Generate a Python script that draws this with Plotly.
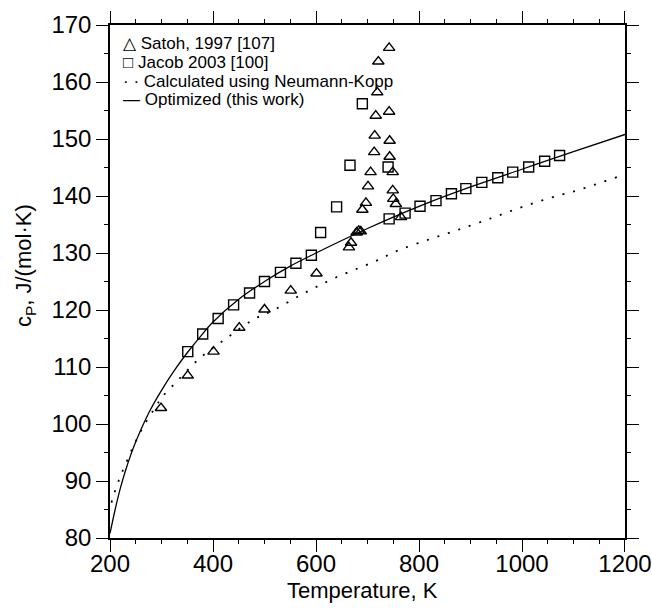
import plotly.graph_objects as go

# Satoh, 1997 [107] (triangles)
satoh_T = [299, 351, 401, 451, 500, 551, 601, 664, 668, 679, 683, 687, 690, 697, 701,
           706, 713, 714, 716, 719, 721, 742, 742, 743, 743, 749, 749, 750, 755, 765]
satoh_cp = [102.8, 108.5, 112.7, 116.9, 120.1, 123.4, 126.4, 131.0, 131.8, 133.6, 133.9,
            133.8, 137.6, 138.8, 141.7, 144.2, 147.7, 150.6, 154.1, 158.2, 163.6, 166.0,
            154.8, 149.7, 146.9, 144.2, 141.0, 139.5, 138.6, 136.3]

# Jacob 2003 [100] (squares)
jacob_T = [351, 380, 410, 440, 471, 500, 531, 561, 591, 609, 640, 666, 690, 740, 742,
           773, 802, 833, 863, 891, 922, 953, 982, 1013, 1044, 1073]
jacob_cp = [112.7, 115.8, 118.5, 120.9, 123.0, 125.0, 126.6, 128.2, 129.6, 133.6, 138.1,
            145.4, 156.2, 145.1, 136.0, 137.0, 138.2, 139.2, 140.4, 141.3, 142.4, 143.2,
            144.2, 145.1, 146.1, 147.1]

# Calculated using Neumann-Kopp (dotted)
nk_T = [203, 205, 212, 220, 230, 245, 265, 290, 300, 330, 375, 427, 480, 520, 578, 636,
        716, 758, 820, 880, 940, 982, 1024, 1067, 1108, 1148, 1190, 1200]
nk_cp = [86.2, 87.0, 88.8, 90.8, 92.9, 96.0, 99.6, 103.2, 104.6, 107.5, 111.6, 115.1,
         118.4, 120.1, 123.0, 125.6, 128.6, 130.4, 132.4, 134.2, 136.1, 137.5, 138.8,
         140.0, 141.0, 142.2, 143.5, 143.8]

# Optimized (this work) (solid)
opt_T = [200, 210, 220, 230, 240, 250, 275, 300, 325, 350, 375, 400, 450, 500, 550, 600,
         650, 700, 750, 800, 900, 1000, 1100, 1200]
opt_cp = [80.8, 85.0, 88.7, 91.8, 94.5, 96.9, 101.9, 105.9, 109.4, 112.5, 115.3, 117.9,
          121.9, 125.0, 127.7, 130.0, 132.2, 134.3, 136.3, 138.2, 141.6, 144.7, 147.8, 150.8]

legend_labels = ["\u25b3 Satoh, 1997 [107]", "\u25a1 Jacob 2003 [100]",
                 "\u00b7 \u00b7 Calculated using Neumann-Kopp", "\u2014 Optimized (this work)"]

x_ticks = [200, 400, 600, 800, 1000, 1200]
y_ticks = [80, 90, 100, 110, 120, 130, 140, 150, 160, 170]

x_title = "Temperature, K"
y_title = "c<sub>P</sub>, J/(mol\u00b7K)"

FONT = "Liberation Sans, Arial, sans-serif"
L, R, T, B = 110, 27, 25, 78
PW, PH = 652 - L - R, 616 - T - B

fig = go.Figure()
fig.add_trace(go.Scatter(x=opt_T, y=opt_cp, mode="lines", line=dict(color="black", width=1.3),
                         line_shape="spline", name="Optimized (this work)"))
fig.add_trace(go.Scatter(x=nk_T, y=nk_cp, mode="lines",
                         line=dict(color="black", width=1.8, dash="2px,9px"),
                         line_shape="spline", name="Calculated using Neumann-Kopp"))
fig.add_trace(go.Scatter(x=jacob_T, y=jacob_cp, mode="markers",
                         marker=dict(symbol="square-open", size=10, color="black",
                                     line=dict(width=1.4, color="black")),
                         name="Jacob 2003 [100]"))
fig.add_trace(go.Scatter(x=satoh_T, y=satoh_cp, mode="markers",
                         marker=dict(symbol="triangle-up-open", size=10, color="black",
                                     line=dict(width=1.4, color="black")),
                         name="Satoh, 1997 [107]"))

for i, lab in enumerate(legend_labels):
    fig.add_annotation(text=lab, xref="paper", yref="paper",
                       x=(121 - L) / PW, y=1 - (19 + 18.5 * i) / PH,
                       xanchor="left", yanchor="middle", showarrow=False,
                       font=dict(family=FONT, size=17, color="black"))

# axis titles
fig.add_annotation(text=x_title, xref="paper", yref="paper",
                   x=(362 - L) / PW, y=1 - (590 - T) / PH, xanchor="center", yanchor="middle",
                   showarrow=False, font=dict(family=FONT, size=22, color="black"))
fig.add_annotation(text=y_title, xref="paper", yref="paper", textangle=-90,
                   x=(25 - L) / PW, y=1 - (266 - T) / PH, xanchor="center", yanchor="middle",
                   showarrow=False, font=dict(family=FONT, size=22, color="black"))

axis_common = dict(showline=True, linecolor="black", linewidth=1.5, mirror="ticks",
                   ticks="outside", ticklen=12, tickwidth=1.3, tickcolor="black",
                   showgrid=False, zeroline=False, automargin=False,
                   tickfont=dict(family=FONT, size=24, color="black"),
                   minor=dict(ticks="outside", ticklen=4, tickwidth=1, tickcolor="black"))

fig.update_layout(
    width=652, height=616,
    margin=dict(l=L, r=R, t=T, b=B),
    plot_bgcolor="white", paper_bgcolor="white",
    showlegend=False,
    xaxis=dict(range=[200, 1200.01], tickvals=x_ticks, ticklabelstandoff=-9,
               ticklabeloverflow="allow", **axis_common),
    yaxis=dict(range=[80, 170.01], tickvals=y_ticks, **axis_common),
)

fig.write_html("out.html")
